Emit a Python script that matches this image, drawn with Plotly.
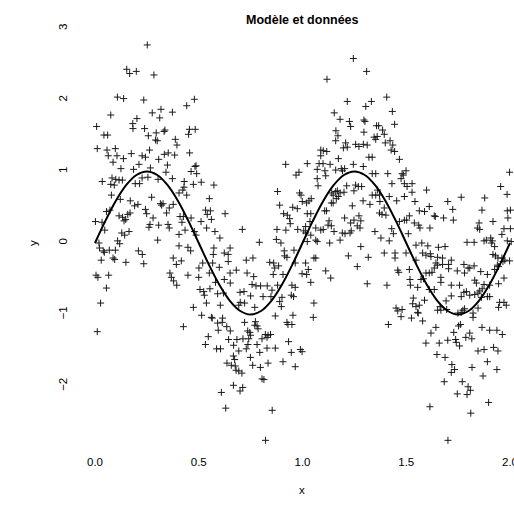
import plotly.graph_objects as go

# Noisy observations, grouped by x band
x_band1 = [0.252, 0.153, 0.167, 0.199, 0.284, 0.108, 0.138, 0.235, 0.276, 0.312, 0.076, 0.202, 0.182, 0.183,
           0.008, 0.239, 0.043, 0.061, 0.257, 0.295, 0.292, 0.300, 0.011, 0.058, 0.098, 0.263, 0.064, 0.106,
           0.175, 0.227, 0.243, 0.137, 0.307, 0.087, 0.212, 0.125, 0.186, 0.267, 0.035, 0.082, 0.100, 0.116,
           0.132, 0.076, 0.093, 0.194, 0.215, 0.227, 0.255, 0.304,
           0.079, 0.122, 0.170, 0.273, 0.315, 0.191, 0.207, 0.243, 0.249, 0.055, 0.072, 0.002, 0.034, 0.116,
           0.133, 0.158, 0.169, 0.148, 0.140, 0.280, 0.265, 0.260, 0.307, 0.047, 0.129, 0.143, 0.164, 0.302,
           0.109, 0.119, 0.019, 0.022, 0.040, 0.045, 0.069, 0.098, 0.209, 0.228, 0.030, 0.087, 0.095, 0.149,
           0.235, 0.005, 0.014, 0.066, 0.055, 0.027, 0.011]
y_band1 = [2.77, 2.43, 2.37, 2.40, 2.35, 2.04, 2.02, 2.00, 1.82, 1.75, 1.79, 1.74, 1.67, 1.60,
           1.63, 1.60, 1.51, 1.51, 1.50, 1.54, 1.44, 1.43, 1.32, 1.30, 1.32, 1.30, 1.22, 1.22,
           1.25, 1.22, 1.20, 1.18, 1.17, 1.13, 1.10, 1.04, 1.03, 1.05, 0.86, 0.91, 0.89, 0.88,
           0.88, 0.82, 0.81, 0.83, 0.83, 0.91, 0.92, 0.89,
           0.67, 0.61, 0.59, 0.64, 0.55, 0.52, 0.54, 0.47, 0.41, 0.44, 0.46, 0.30, 0.29, 0.38,
           0.36, 0.40, 0.42, 0.33, 0.31, 0.35, 0.26, 0.22, 0.25, 0.18, 0.14, 0.11, 0.16, 0.04,
           0.03, -0.01, 0.00, -0.07, -0.11, -0.13, -0.10, -0.10, -0.11, -0.16, -0.24, -0.21, -0.23, -0.27,
           -0.29, -0.45, -0.48, -0.45, -0.63, -0.84, -1.24]

x_band2 = [0.479, 0.442, 0.373, 0.318, 0.333, 0.337, 0.455, 0.483, 0.451, 0.387, 0.395, 0.334, 0.353, 0.384,
           0.456, 0.349, 0.482, 0.487, 0.463, 0.490, 0.342, 0.373, 0.430, 0.429, 0.474, 0.512, 0.573, 0.405,
           0.423, 0.442, 0.551, 0.321, 0.328, 0.377, 0.358, 0.345, 0.533, 0.556, 0.541, 0.627, 0.410, 0.426,
           0.463, 0.419, 0.511, 0.561, 0.352, 0.358, 0.434, 0.405, 0.479, 0.538, 0.578, 0.487, 0.602, 0.405,
           0.448, 0.573, 0.651,
           0.461, 0.570, 0.623, 0.642, 0.377, 0.392, 0.416, 0.519, 0.567, 0.642, 0.599, 0.501, 0.361, 0.448,
           0.500, 0.551, 0.651, 0.368, 0.379, 0.394, 0.581, 0.623, 0.652, 0.506, 0.524, 0.527, 0.554, 0.591,
           0.619, 0.537, 0.604, 0.474, 0.514, 0.561, 0.565, 0.615, 0.591, 0.613, 0.635, 0.594, 0.652, 0.426,
           0.546, 0.644, 0.532, 0.586, 0.605, 0.667, 0.636, 0.657, 0.667, 0.609, 0.630]
y_band2 = [2.01, 1.92, 1.83, 1.87, 1.56, 1.58, 1.59, 1.59, 1.52, 1.45, 1.37, 1.24, 1.26, 1.23,
           1.26, 1.09, 1.07, 1.08, 1.00, 0.97, 0.99, 0.90, 0.86, 0.78, 0.82, 0.85, 0.81, 0.70,
           0.74, 0.67, 0.62, 0.53, 0.55, 0.54, 0.49, 0.42, 0.46, 0.45, 0.40, 0.41, 0.37, 0.37,
           0.35, 0.29, 0.30, 0.33, 0.26, 0.21, 0.18, 0.12, 0.16, 0.21, 0.16, 0.11, 0.07, -0.04,
           -0.06, -0.07, -0.07,
           -0.11, -0.16, -0.14, -0.16, -0.21, -0.30, -0.25, -0.28, -0.28, -0.26, -0.34, -0.35, -0.42, -0.45,
           -0.48, -0.42, -0.42, -0.48, -0.53, -0.59, -0.55, -0.51, -0.56, -0.65, -0.68, -0.73, -0.64, -0.71,
           -0.70, -0.84, -0.87, -0.90, -1.01, -1.04, -1.05, -1.05, -1.12, -1.11, -1.17, -1.22, -1.23, -1.17,
           -1.31, -1.35, -1.42, -1.48, -1.48, -1.58, -1.68, -1.71, -1.99, -2.09, -2.31]

x_band3 = [0.919, 0.969, 0.983, 0.880, 0.986, 0.993, 0.999, 0.890, 0.953, 0.975, 0.909, 0.927, 0.938, 0.941,
           0.710, 0.877, 0.920, 0.977, 1.006, 0.874, 0.896, 0.792, 0.912, 0.959, 0.914, 0.925, 0.729, 0.761,
           0.842, 0.861, 0.885, 0.866, 0.965, 0.681, 0.733, 0.765, 0.859, 0.906, 0.998, 0.757, 0.776, 0.798,
           0.830, 0.853, 0.880, 0.949, 0.965, 0.946, 0.957, 0.699, 0.718, 0.750, 0.810, 0.848, 0.901,
           0.700, 0.721, 0.693, 0.770, 0.890, 0.898, 0.869, 0.954, 0.721, 0.773, 0.770, 0.781, 0.786, 0.925,
           0.930, 0.949, 0.736, 0.746, 0.750, 0.821, 0.834, 0.846, 0.829, 0.805, 0.684, 0.713, 0.741, 0.933,
           0.668, 0.737, 0.781, 0.693, 0.729, 0.829, 0.869, 0.794, 0.946, 0.990, 0.998, 0.673, 0.749,
           0.834, 0.906, 0.965, 0.760, 0.797, 0.676, 0.680, 0.693, 0.708, 0.805, 0.814, 0.712, 0.699, 0.854,
           0.822]
y_band3 = [1.10, 0.95, 0.99, 0.72, 0.70, 0.67, 0.58, 0.53, 0.50, 0.48, 0.41, 0.39, 0.34, 0.27,
           0.19, 0.19, 0.18, 0.19, 0.17, 0.05, 0.00, 0.01, -0.11, -0.10, -0.18, -0.20, -0.24, -0.21,
           -0.27, -0.28, -0.32, -0.35, -0.28, -0.38, -0.42, -0.47, -0.44, -0.44, -0.43, -0.58, -0.60, -0.60,
           -0.60, -0.66, -0.59, -0.59, -0.62, -0.73, -0.75, -0.69, -0.68, -0.74, -0.75, -0.75, -0.76,
           -0.83, -0.84, -0.87, -0.90, -0.82, -0.89, -1.02, -1.01, -1.11, -1.10, -1.15, -1.16, -1.20, -1.11,
           -1.14, -1.14, -1.23, -1.25, -1.29, -1.28, -1.29, -1.28, -1.32, -1.34, -1.35, -1.34, -1.34, -1.38,
           -1.43, -1.42, -1.42, -1.51, -1.48, -1.47, -1.47, -1.53, -1.53, -1.49, -1.52, -1.63, -1.60,
           -1.68, -1.66, -1.73, -1.71, -1.74, -1.72, -1.78, -1.79, -1.82, -1.90, -1.91, -2.02, -2.07, -2.34,
           -2.76]

x_band4 = [1.245, 1.309, 1.118, 1.216, 1.332, 1.305, 1.153, 1.181, 1.226, 1.232, 1.296, 1.301, 1.161, 1.171,
           1.160, 1.296, 1.357, 1.345, 1.353, 1.360, 1.208, 1.197, 1.216, 1.256, 1.272, 1.293, 1.312, 1.088,
           1.100, 1.117, 1.088, 1.173, 1.320, 1.336, 1.080, 1.099, 1.133, 1.023, 1.245, 1.293, 1.071, 1.108,
           1.160, 1.187, 1.203, 1.193, 1.336, 1.353, 1.071, 1.112,
           1.075, 1.160, 1.168, 1.181, 1.200, 1.148, 1.141, 1.213, 1.256, 1.269, 1.285, 1.248, 1.336, 1.353,
           1.173, 1.163, 1.020, 1.031, 1.042, 1.139, 1.148, 1.240, 1.292, 1.325, 1.023, 1.040, 1.107, 1.116,
           1.203, 1.232, 1.248, 1.272, 1.281, 1.264, 1.036, 1.128, 1.123, 1.139, 1.015, 1.015, 1.064, 1.088,
           1.100, 1.152, 1.192, 1.205, 1.229, 1.235, 1.277, 1.349, 1.040, 1.064, 1.071, 1.023, 1.131, 1.181,
           1.281, 1.221, 1.317, 1.055, 1.064, 1.015, 1.264, 1.028, 1.020, 1.112, 1.136, 1.040, 1.312, 1.055,
           1.052]
y_band4 = [2.58, 2.40, 2.29, 1.98, 1.98, 1.91, 1.82, 1.73, 1.70, 1.63, 1.72, 1.70, 1.57, 1.50,
           1.43, 1.55, 1.64, 1.48, 1.45, 1.49, 1.40, 1.33, 1.34, 1.38, 1.35, 1.38, 1.37, 1.30,
           1.29, 1.28, 1.22, 1.18, 1.20, 1.20, 1.11, 1.11, 1.10, 1.11, 1.10, 1.07, 1.03, 1.01,
           1.02, 1.04, 1.04, 1.01, 0.97, 0.97, 0.90, 0.94,
           0.80, 0.72, 0.73, 0.70, 0.71, 0.67, 0.70, 0.80, 0.81, 0.79, 0.79, 0.73, 0.67, 0.67,
           0.65, 0.62, 0.56, 0.59, 0.62, 0.56, 0.56, 0.52, 0.59, 0.54, 0.41, 0.41, 0.45, 0.45,
           0.35, 0.28, 0.32, 0.38, 0.31, 0.24, 0.30, 0.31, 0.25, 0.24, 0.23, 0.14, 0.21, 0.18,
           0.19, 0.16, 0.14, 0.13, 0.14, 0.17, 0.21, 0.16, 0.11, 0.04, 0.02, 0.02, 0.00, 0.04,
           -0.05, -0.18, -0.20, -0.21, -0.21, -0.28, -0.33, -0.37, -0.44, -0.39, -0.49, -0.55, -0.57, -0.84,
           -1.04]

x_band5 = [1.406, 1.433, 1.444, 1.367, 1.386, 1.394, 1.399, 1.422, 1.435, 1.427, 1.444, 1.467, 1.411, 1.480,
           1.486, 1.499, 1.475, 1.431, 1.491, 1.504, 1.528, 1.598, 1.362, 1.371, 1.373, 1.394, 1.418, 1.454,
           1.491, 1.528, 1.542, 1.700, 1.611, 1.563, 1.588, 1.515, 1.635, 1.640, 1.680, 1.371, 1.383, 1.402,
           1.491, 1.502, 1.539, 1.560, 1.566, 1.430, 1.467, 1.614,
           1.378, 1.418, 1.438, 1.510, 1.394, 1.446, 1.446, 1.499, 1.547, 1.575, 1.604, 1.655, 1.687, 1.579,
           1.595, 1.616, 1.619, 1.651, 1.675, 1.547, 1.643, 1.651, 1.675, 1.704, 1.635, 1.704, 1.459, 1.464,
           1.515, 1.595, 1.611, 1.624, 1.667, 1.518, 1.571, 1.583, 1.667, 1.520, 1.555, 1.407, 1.611, 1.635,
           1.534, 1.588, 1.692, 1.531, 1.547, 1.563, 1.555, 1.451, 1.459, 1.480, 1.475, 1.651, 1.663, 1.667,
           1.695, 1.525, 1.579, 1.558, 1.414, 1.643, 1.619, 1.700, 1.595, 1.659, 1.648, 1.687, 1.683, 1.614]
y_band5 = [2.04, 1.84, 1.66, 1.64, 1.58, 1.52, 1.40, 1.43, 1.37, 1.30, 1.28, 1.17, 0.97, 0.97,
           0.95, 1.01, 0.90, 0.83, 0.83, 0.79, 0.83, 0.74, 0.74, 0.67, 0.58, 0.49, 0.65, 0.59,
           0.65, 0.71, 0.58, 0.58, 0.51, 0.45, 0.44, 0.38, 0.38, 0.37, 0.35, 0.42, 0.40, 0.39,
           0.32, 0.32, 0.28, 0.25, 0.21, 0.20, 0.30, 0.21,
           0.07, 0.03, 0.13, 0.13, -0.14, -0.14, -0.21, -0.14, -0.03, 0.00, -0.04, -0.06, -0.05, -0.14,
           -0.17, -0.15, -0.19, -0.20, -0.21, -0.24, -0.28, -0.31, -0.30, -0.30, -0.35, -0.36, -0.38, -0.41,
           -0.37, -0.42, -0.42, -0.41, -0.48, -0.51, -0.51, -0.50, -0.55, -0.59, -0.62, -0.59, -0.65, -0.65,
           -0.77, -0.80, -0.81, -0.85, -0.89, -0.87, -0.97, -0.91, -0.95, -0.93, -1.03, -0.94, -0.89, -0.94,
           -0.93, -1.05, -1.09, -0.98, -1.14, -1.18, -1.26, -1.36, -1.40, -1.40, -1.56, -1.60, -1.94, -2.29]

x_band6 = [1.998, 1.955, 1.986, 1.765, 1.878, 1.724, 1.865, 1.987, 2.002, 1.990, 1.727, 1.918, 1.851, 1.843,
           1.854, 1.971, 2.002, 1.961, 1.793, 1.827, 1.875, 1.886, 1.907, 1.915, 1.910, 1.987, 2.006, 1.926,
           1.918, 1.930, 1.942, 1.961, 1.975, 1.998, 1.966, 1.939, 1.945, 1.926, 1.717, 1.778, 1.827, 1.798,
           1.806, 1.746, 1.781, 1.859, 1.891, 1.971, 1.945, 1.830, 1.838, 1.875, 1.902, 1.866, 1.717, 1.757,
           1.854, 1.846, 1.778, 1.790, 1.806, 1.830, 1.717, 1.765, 1.862, 1.891, 1.902, 1.950, 1.971,
           1.781, 1.773, 1.749, 1.765, 1.822, 1.822, 1.846, 1.945, 1.982, 1.752, 1.761, 1.865, 1.902, 1.937,
           1.963, 1.729, 1.806, 1.787, 1.816, 1.738, 1.741, 1.757, 1.846, 1.875, 1.921, 1.942, 1.891, 1.720,
           1.733, 1.717, 1.817, 1.937, 1.870, 1.770, 1.798, 1.809, 1.746, 1.793, 1.897, 1.811, 1.701]
y_band6 = [0.99, 0.79, 0.68, 0.64, 0.63, 0.47, 0.46, 0.45, 0.46, 0.35, 0.32, 0.30, 0.28, 0.21,
           0.19, 0.20, 0.20, 0.12, 0.01, 0.01, 0.03, 0.04, 0.07, 0.03, 0.00, 0.03, 0.02, -0.05,
           -0.16, -0.18, -0.21, -0.21, -0.24, -0.25, -0.26, -0.31, -0.33, -0.37, -0.24, -0.30, -0.32, -0.35,
           -0.35, -0.39, -0.42, -0.40, -0.44, -0.49, -0.57, -0.52, -0.56, -0.58, -0.59, -0.64, -0.59, -0.59,
           -0.67, -0.70, -0.69, -0.68, -0.73, -0.72, -0.74, -0.75, -0.76, -0.75, -0.75, -0.83, -0.83,
           -0.92, -0.94, -0.98, -0.97, -0.98, -1.04, -0.91, -0.90, -0.87, -1.16, -1.14, -1.18, -1.22, -1.22,
           -1.28, -1.25, -1.26, -1.32, -1.34, -1.35, -1.39, -1.44, -1.51, -1.49, -1.46, -1.51, -1.66, -1.70,
           -1.77, -1.81, -1.74, -1.77, -1.86, -1.94, -2.01, -2.06, -2.11, -2.12, -2.23, -2.38, -2.76]

# Model curve
x_model = [0.00, 0.05, 0.10, 0.15, 0.20, 0.25, 0.30, 0.35, 0.40, 0.45, 0.50,
           0.55, 0.60, 0.65, 0.70, 0.75, 0.80, 0.85, 0.90, 0.95, 1.00,
           1.05, 1.10, 1.15, 1.20, 1.25, 1.30, 1.35, 1.40, 1.45, 1.50,
           1.55, 1.60, 1.65, 1.70, 1.75, 1.80, 1.85, 1.90, 1.95, 2.00]
y_model = [0.000, 0.309, 0.588, 0.809, 0.951, 1.000, 0.951, 0.809, 0.588, 0.309, 0.000,
           -0.309, -0.588, -0.809, -0.951, -1.000, -0.951, -0.809, -0.588, -0.309, 0.000,
           0.309, 0.588, 0.809, 0.951, 1.000, 0.951, 0.809, 0.588, 0.309, 0.000,
           -0.309, -0.588, -0.809, -0.951, -1.000, -0.951, -0.809, -0.588, -0.309, 0.000]

x_ticks = [0.0, 0.5, 1.0, 1.5, 2.0]
x_ticklabels = ["0.0", "0.5", "1.0", "1.5", "2.0"]
y_ticks = [-2, -1, 0, 1, 2, 3]
y_ticklabels = ["\u22122", "\u22121", "0", "1", "2", "3"]

x_obs = x_band1 + x_band2 + x_band3 + x_band4 + x_band5 + x_band6
y_obs = y_band1 + y_band2 + y_band3 + y_band4 + y_band5 + y_band6

FONT = "Liberation Sans, Arial, Helvetica, sans-serif"

fig = go.Figure()
fig.add_trace(go.Scatter(
    x=x_obs, y=y_obs, mode="markers", cliponaxis=False,
    marker=dict(symbol="cross-thin", size=5, color="#1a1a1a",
                line=dict(width=1, color="#1a1a1a")),
    hoverinfo="skip", showlegend=False,
))
fig.add_trace(go.Scatter(
    x=x_model, y=y_model, mode="lines",
    line=dict(color="black", width=2, shape="spline", smoothing=1.0),
    hoverinfo="skip", showlegend=False,
))

W, H = 514, 513
L, R, T, B = 78, 0, 28, 60
fig.update_layout(
    template="none",
    width=W, height=H,
    margin=dict(l=L, r=R, t=T, b=B, pad=0),
    paper_bgcolor="white", plot_bgcolor="white",
    font=dict(family=FONT, size=11.5, color="black"),
    xaxis=dict(range=[-0.0819, 2.0193], tickvals=x_ticks, ticktext=x_ticklabels,
               showgrid=False, zeroline=False, showline=False, ticks="",
               automargin=False, tickfont=dict(size=11.5), ticklabelstandoff=0,
               ticklabeloverflow="allow"),
    yaxis=dict(range=[-2.937, 3.007], tickvals=y_ticks, ticktext=y_ticklabels,
               showgrid=False, zeroline=False, showline=False, ticks="",
               tickangle=-90, automargin=False, tickfont=dict(size=11.5),
               ticklabelstandoff=8, ticklabeloverflow="allow"),
    annotations=[
        dict(text="<b>Modèle et données</b>", xref="paper", yref="paper",
             x=(302 - L) / (W - L - R), y=1 + 8 / (H - T - B),
             xanchor="center", yanchor="middle", showarrow=False,
             font=dict(size=12.5, family=FONT)),
        dict(text="x", xref="paper", yref="paper",
             x=(302 - L) / (W - L - R), y=-(490 - (H - B)) / (H - T - B),
             xanchor="center", yanchor="middle", showarrow=False,
             font=dict(size=11.5, family=FONT)),
        dict(text="y", xref="paper", yref="paper", textangle=-90,
             x=(33 - L) / (W - L - R), y=((H - B) - 243) / (H - T - B),
             xanchor="center", yanchor="middle", showarrow=False,
             font=dict(size=11.5, family=FONT)),
    ],
)

fig.write_html("out.html")
